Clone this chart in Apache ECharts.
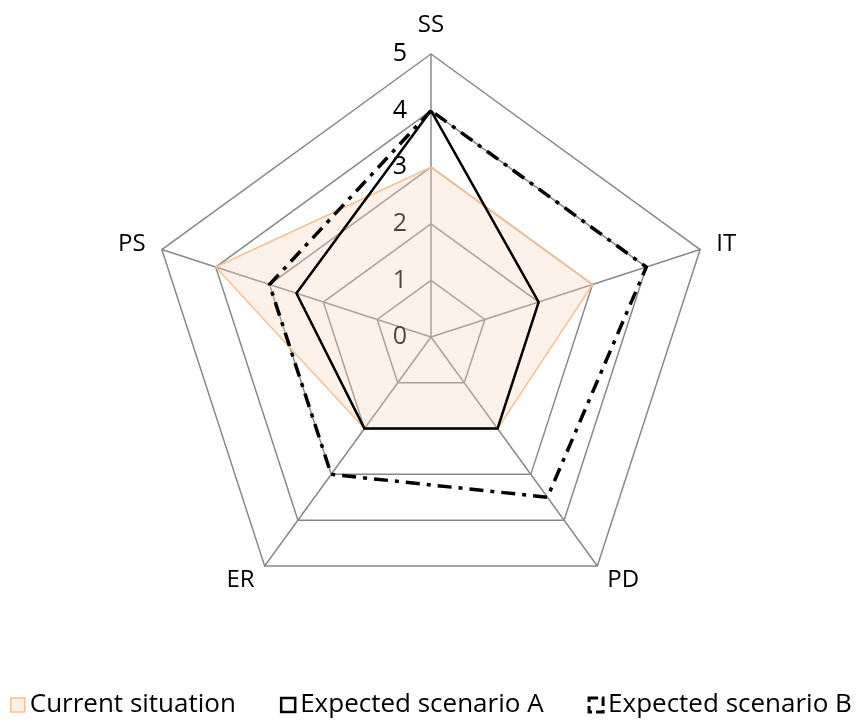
<!DOCTYPE html>
<html>
<head>
<meta charset="utf-8">
<script src="https://cdn.jsdelivr.net/npm/echarts@6/dist/echarts.min.js"></script>
<style>
  html, body { margin: 0; padding: 0; background: #fff; }
  #chart { width: 863px; height: 722px; }
</style>
</head>
<body>
<div id="chart"></div>
<script>
// indicators in ECharts drawing order (counter-clockwise from the top)
const indicators = ['SS', 'PS', 'ER', 'PD', 'IT']
const maxValue = 5

// series values, same order as indicators
const currentSituation = [3, 4, 2, 2, 3]
const scenarioA = [4, 2.5, 2, 2, 2]
const scenarioB = [4, 3, 3, 3.5, 4]

const seriesNames = ['Current situation', 'Expected scenario A', 'Expected scenario B']

const font = 'Open Sans'
const chart = echarts.init(document.getElementById('chart'))

const option = {
  backgroundColor: '#fff',
  animation: false,
  legend: {
    bottom: 4,
    left: 10,
    width: 860,
    padding: 0,
    itemGap: 44,
    itemWidth: 14,
    itemHeight: 14,
    textStyle: { fontFamily: font, fontSize: 26, color: '#000' },
    data: [
      { name: seriesNames[0], icon: 'rect', itemStyle: { color: '#fcefe3', borderColor: '#f7c190', borderWidth: 1.5 } },
      { name: seriesNames[1], icon: 'rect', itemStyle: { color: '#fff', borderColor: '#000', borderWidth: 2.5 } },
      { name: seriesNames[2], icon: 'rect', itemStyle: { color: '#fff', borderColor: '#000', borderWidth: 3, borderType: [9, 4] } }
    ]
  },
  radar: {
    center: [431, 337],
    radius: 283,
    startAngle: 90,
    shape: 'polygon',
    splitNumber: 5,
    indicator: indicators.map((name, i) => ({
      name,
      min: 0,
      max: maxValue,
      axisLabel: { show: i === 0 }
    })),
    axisName: { color: '#000', fontFamily: font, fontSize: 24 },
    nameGap: 17,
    axisLine: { lineStyle: { color: '#898989', width: 1.5 } },
    splitLine: { lineStyle: { color: '#898989', width: 1.5 } },
    splitArea: { show: false },
    axisTick: { show: false },
    axisLabel: {
      show: true,
      color: '#000',
      fontFamily: font,
      fontSize: 25,
      margin: 24
    }
  },
  series: [
    {
      type: 'radar',
      symbol: 'none',
      data: [
        {
          name: seriesNames[0],
          value: currentSituation,
          lineStyle: { color: '#f7be8c', width: 1.5 },
          areaStyle: { color: 'rgba(246,214,186,0.45)' },
          itemStyle: { color: '#f7be8c' }
        },
        {
          name: seriesNames[1],
          value: scenarioA,
          lineStyle: { color: '#000', width: 2.5 },
          itemStyle: { color: '#000' }
        },
        {
          name: seriesNames[2],
          value: scenarioB,
          lineStyle: { color: '#000', width: 3.5, type: [14, 7, 4, 7] },
          itemStyle: { color: '#000' }
        }
      ]
    }
  ]
}

chart.setOption(option)
</script>
</body>
</html>
